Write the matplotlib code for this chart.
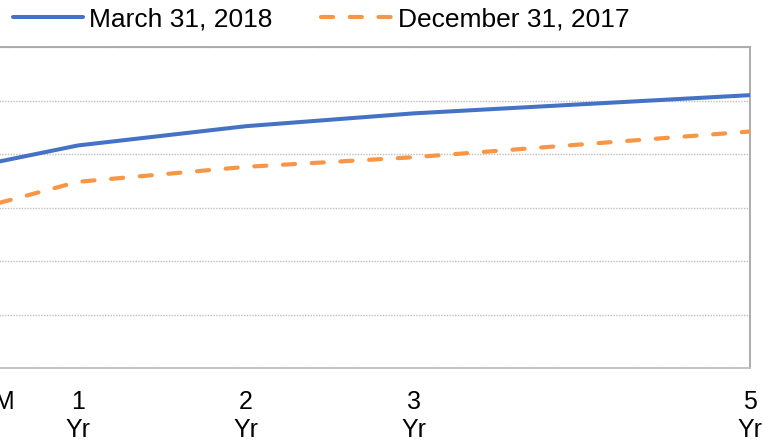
import matplotlib.pyplot as plt

plt.rcParams["font.family"] = ["Liberation Sans", "DejaVu Sans"]

# Treasury yield curve (%), maturities in years
vencimentos = [0.5, 1, 2, 3, 5]
rotulos = ["6 M", "1\nYr", "2\nYr", "3\nYr", "5\nYr"]
marco_2018 = [1.92, 2.08, 2.26, 2.38, 2.55]
dezembro_2017 = [1.53, 1.74, 1.88, 1.97, 2.21]
niveis_y = [0.0, 0.5, 1.0, 1.5, 2.0, 2.5, 3.0]

AZUL = "#4472C4"
LARANJA = "#F79646"
CINZA = "#A6A6A6"

fig = plt.figure(figsize=(7.63, 4.40), dpi=100)

# plot area runs past the left edge of the picture (cropped chart)
ax = fig.add_axes([-90 / 763, 1 - 368 / 440, 840 / 763, 321 / 440])

ax.plot(vencimentos, marco_2018, color=AZUL, lw=2.9,
        solid_capstyle="round", label="March 31, 2018", zorder=3)
ax.plot(vencimentos, dezembro_2017, color=LARANJA, lw=3.0,
        ls=(0, (2.9, 4.0)), dash_capstyle="round",
        label="December 31, 2017", zorder=3)

ax.set_xlim(0, 5)
ax.set_ylim(niveis_y[0], niveis_y[-1])
ax.set_yticks(niveis_y)
ax.yaxis.grid(True, color="#BFBFBF", ls=(0, (1, 1)), lw=1.0)
ax.set_axisbelow(True)
ax.tick_params(axis="y", length=0, labelleft=False)

ax.set_xticks(vencimentos)
ax.set_xticklabels(rotulos, fontsize=18, linespacing=1.2)
ax.tick_params(axis="x", length=0, pad=16)

for lado in ["top", "bottom", "right", "left"]:
    ax.spines[lado].set_color(CINZA)
    ax.spines[lado].set_linewidth(1.3)
ax.spines["bottom"].set_color("#BFBFBF")

fig.legend(loc="center left", bbox_to_anchor=(13 / 763, 1 - 19.5 / 440),
           ncol=2, frameon=False, fontsize=19, handlelength=2.64,
           handletextpad=0.25, columnspacing=1.85, borderpad=0,
           borderaxespad=0)

fig.savefig("out.png", dpi=100)
